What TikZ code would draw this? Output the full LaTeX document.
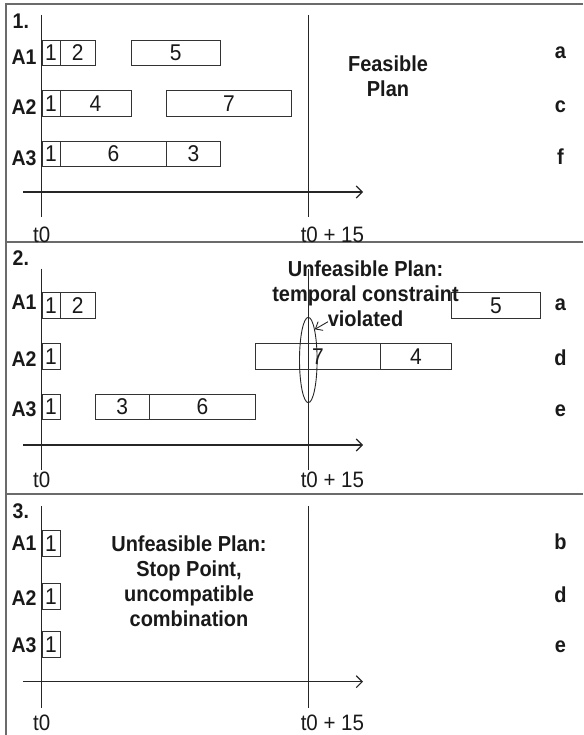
\documentclass[tikz,border=0pt]{standalone}
\usepackage{fontspec}
\setmainfont{Liberation Sans}[FakeStretch=0.92]
\usetikzlibrary{arrows.meta,shapes.geometric}

% one time unit on the axis, and where t0 sits
\newcommand\tunit{17.8}
\newcommand\tzero{41.7}

% a job: name, row centre y, start, end, label
\newcommand\job[5]{%
  \node[jobbox, anchor=west, minimum width={(#4-#3)*\tunit}]
    (#1) at ({\tzero+#3*\tunit},#2) {#5};}

% the two time marks and the time arrow of one panel:
% prefix, top of the marks, arrow height, bottom of the marks, label height
\newcommand\timeaxes[5]{%
  \coordinate (#1t0top) at (\tzero,#2);
  \coordinate (#1t0bot) at (\tzero,#4);
  \coordinate (#1tftop) at ({\tzero+15*\tunit},#2);
  \coordinate (#1tfbot) at ({\tzero+15*\tunit},#4);
  \coordinate (#1from) at (23,#3);
  \coordinate (#1to) at (363,#3);
  \draw[axis] (#1t0top) -- (#1t0bot);
  \draw[axis] (#1tftop) -- (#1tfbot);
  \draw[timearrow] (#1from) -- (#1to);
  \node[ticklabel] (#1t0lab) at (\tzero,#5) {t0};
  \node[ticklabel] (#1tflab) at (332.4,#5) {t0 + 15};}

\begin{document}
\begin{tikzpicture}[x=1pt,y=-1pt,
  panelrule/.style={draw=black!58, line width=2pt},
  axis/.style={draw=black!85, line width=1.1pt},
  timearrow/.style={axis, -{Straight Barb[length=6pt,width=12pt]}},
  jobbox/.style={draw=black!80, line width=0.9pt, rectangle, inner sep=0pt,
    minimum height=25.5pt, text=black!90, font=\fontsize{22.8}{26}\selectfont},
  agent/.style={inner sep=0pt, text=black!90, font=\bfseries\fontsize{21.2}{26}\selectfont},
  ticklabel/.style={inner sep=0pt, text=black!90, font=\fontsize{22.3}{26}\selectfont},
  verdict/.style={inner sep=0pt, align=center, text=black!90,
    font=\bfseries\fontsize{21.7}{25}\selectfont},
  choice/.style={inner sep=0pt, text=black!90, font=\bfseries\fontsize{21.7}{26}\selectfont},
]
\useasboundingbox (0,0) rectangle (583,735);

% frame and panel separators
\draw[panelrule] (583,4.3) -- (5.7,4.3) -- (5.7,735);
\draw[panelrule] (5.7,242.3) -- (583,242.3);
\draw[panelrule] (5.7,493.5) -- (583,493.5);

% ---------------- panel 1 ----------------
\node[agent] (p1num) at (20.8,21.7) {1.};
\timeaxes{pa}{15}{192}{217}{235}
\node[agent] (p1A1) at (24,57.2) {A1};
\node[agent] (p1A2) at (24,107.5) {A2};
\node[agent] (p1A3) at (24,158) {A3};
\job{p1a}{53}{0}{1}{1}
\job{p1b}{53}{1}{3}{2}
\job{p1c}{53}{5}{10}{5}
\job{p1d}{103.3}{0}{1}{1}
\job{p1e}{103.3}{1}{5}{4}
\job{p1f}{103.3}{7}{14}{7}
\job{p1g}{153.8}{0}{1}{1}
\job{p1h}{153.8}{1}{7}{6}
\job{p1i}{153.8}{7}{10}{3}
\node[verdict] (p1text) at (388,76) {Feasible\\Plan};
\node[choice] (p1r1) at (560.5,53) {a};
\node[choice] (p1r2) at (560.5,107) {c};
\node[choice] (p1r3) at (560.5,157) {f};

% ---------------- panel 2 ----------------
\node[agent] (p2num) at (20.8,258.5) {2.};
\timeaxes{pb}{268.5}{445}{470}{480}
\node[agent] (p2A1) at (24,302) {A1};
\node[agent] (p2A2) at (24,358.8) {A2};
\node[agent] (p2A3) at (24,409) {A3};
\job{p2a}{305.5}{0}{1}{1}
\job{p2b}{305.5}{1}{3}{2}
\job{p2c}{305.5}{23}{28}{5}
\job{p2d}{356.2}{0}{1}{1}
\job{p2e}{356.2}{12}{19}{7}
\job{p2f}{356.2}{19}{23}{4}
\job{p2g}{407}{0}{1}{1}
\job{p2h}{407}{3}{6}{3}
\job{p2i}{407}{6}{12}{6}
\node[verdict] (p2text) at (365.5,293.5) {Unfeasible Plan:\\temporal constraint\\violated};
\node[ellipse, draw=black!85, line width=0.9pt, inner sep=0pt,
  minimum width=17.6pt, minimum height=85.4pt] (clash) at (308.3,360) {};
\coordinate (note) at (328,321.7);
\draw[line width=0.9pt, draw=black!85, -{Straight Barb[length=6pt,width=10pt]}] (note) -- (clash.78);
\node[choice] (p2r1) at (560.5,305) {a};
\node[choice] (p2r2) at (560.5,358) {d};
\node[choice] (p2r3) at (560.5,410.7) {e};

% ---------------- panel 3 ----------------
\node[agent] (p3num) at (20.8,511.5) {3.};
\timeaxes{pc}{506}{681.7}{708}{723}
\node[agent] (p3A1) at (24,543) {A1};
\node[agent] (p3A2) at (24,598) {A2};
\node[agent] (p3A3) at (24,645) {A3};
\job{p3a}{543.4}{0}{1}{1}
\job{p3b}{596.5}{0}{1}{1}
\job{p3c}{644.3}{0}{1}{1}
\node[verdict] (p3text) at (189,580.8) {Unfeasible Plan:\\Stop Point,\\uncompatible\\combination};
\node[choice] (p3r1) at (560.5,541.7) {b};
\node[choice] (p3r2) at (560.5,595) {d};
\node[choice] (p3r3) at (560.5,646.7) {e};
\end{tikzpicture}
\end{document}
